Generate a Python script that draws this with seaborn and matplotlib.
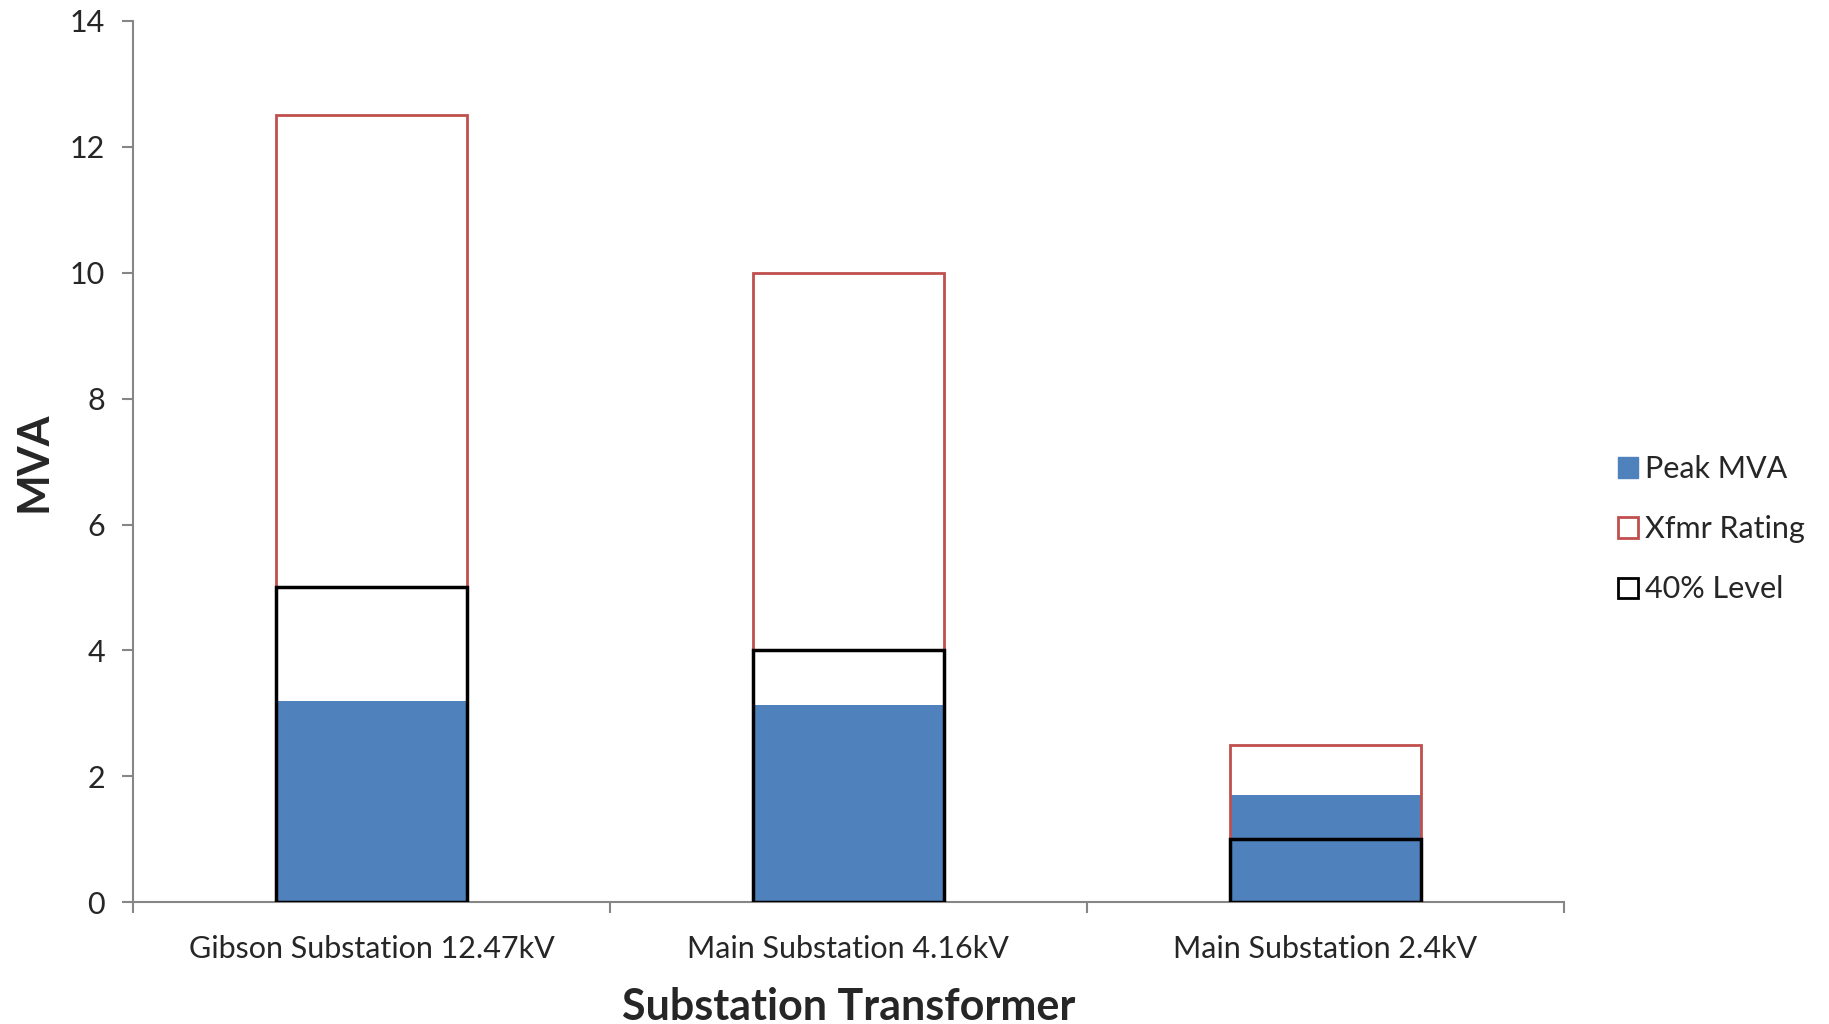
import pandas as pd
import matplotlib.pyplot as plt
import seaborn as sns
from matplotlib.patches import Patch

# Datos
substations = ["Gibson Substation 12.47kV", "Main Substation 4.16kV", "Main Substation 2.4kV"]
peak_mva = [3.19, 3.13, 1.71]
xfmr_rating = [12.5, 10.0, 2.5]
level_40 = [5.0, 4.0, 1.0]

df = pd.DataFrame({
    "substation": substations,
    "peak": peak_mva,
    "rating": xfmr_rating,
    "level40": level_40,
})

sns.set_style("white")
plt.rcParams['font.family'] = ['Lato', 'DejaVu Sans']

fig = plt.figure(figsize=(18.29, 10.24), dpi=100)
ax = fig.add_axes([0.0727, 0.119, 0.7823, 0.8605])

blue = "#4F81BD"
red = "#C0504D"
gray = "#868686"

sns.barplot(data=df, x="substation", y="peak", color=blue, width=0.4,
            saturation=1, linewidth=0, ax=ax, zorder=1)
sns.barplot(data=df, x="substation", y="rating", color=red, fill=False, width=0.4,
            linewidth=2, ax=ax, zorder=2)
sns.barplot(data=df, x="substation", y="level40", color="black", fill=False, width=0.4,
            linewidth=2.5, ax=ax, zorder=3)

ax.set_ylim(0, 14)
ax.set_xlim(-0.5, 2.5)
ax.set_yticks(range(0, 15, 2))

# Ticks en los limites de categoria (estilo Excel)
ax.set_xticks([-0.5, 0.5, 1.5, 2.5], minor=True)
ax.tick_params(axis="x", which="major", length=0, pad=24, labelsize=22)
ax.tick_params(axis="x", which="minor", length=8, width=1.5, color=gray, direction="out", bottom=True)
ax.tick_params(axis="y", length=8, width=1.5, color=gray, direction="out", left=True, labelsize=22, pad=12)

for side in ["top", "right"]:
    ax.spines[side].set_visible(False)
for side in ["left", "bottom"]:
    ax.spines[side].set_color(gray)
    ax.spines[side].set_linewidth(1.5)

ax.set_xlabel("Substation Transformer", fontsize=31, fontweight="bold", labelpad=17)
ax.set_ylabel("MVA", fontsize=31, fontweight="bold", labelpad=12)

handles = [
    Patch(facecolor=blue, edgecolor=blue, label="Peak MVA"),
    Patch(facecolor="white", edgecolor=red, linewidth=2, label="Xfmr Rating"),
    Patch(facecolor="white", edgecolor="black", linewidth=2, label="40% Level"),
]
fig.legend(handles=handles, loc="center left", bbox_to_anchor=(0.8695, 0.483),
           frameon=False, fontsize=22, handlelength=0.65, handleheight=0.65,
           handletextpad=0.25, labelspacing=1.05)

plt.savefig("out.png", dpi=100)
